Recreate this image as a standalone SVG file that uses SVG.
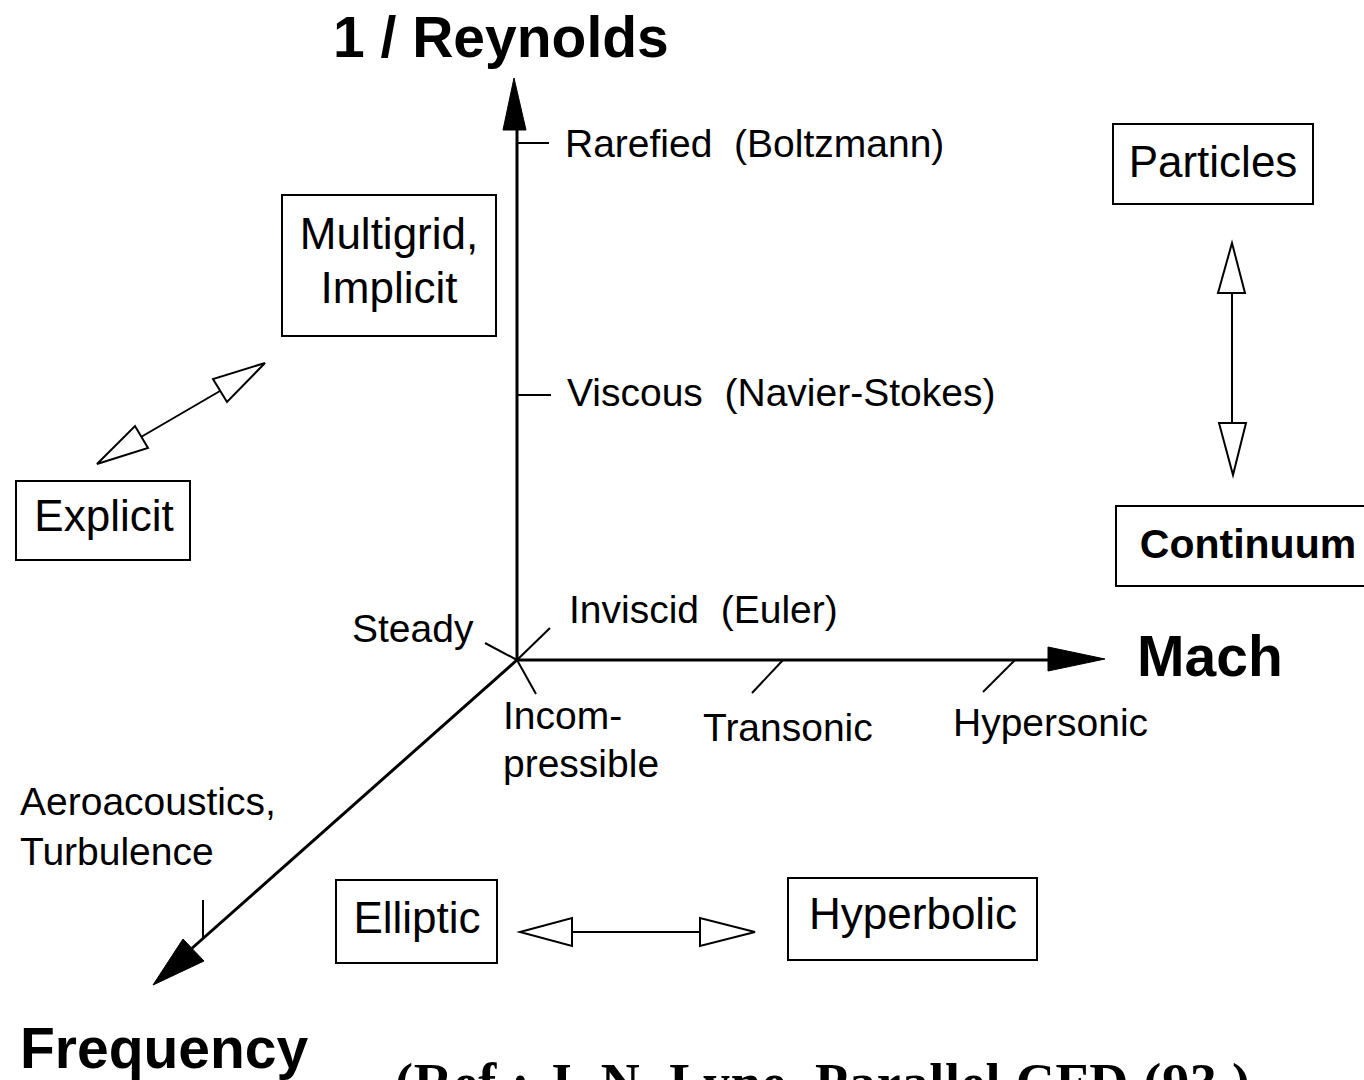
<svg xmlns="http://www.w3.org/2000/svg" width="1364" height="1080" viewBox="0 0 1364 1080">
<style>
text{font-family:"Liberation Sans",Arial,sans-serif;fill:#000;white-space:pre}
.lbl{font-size:39px}
.box{font-size:44px}
.ax{font-size:57px;font-weight:bold}
.node rect{fill:none;stroke:#000;stroke-width:2}
.axis{stroke:#000;stroke-width:3;fill:none}
.tick{stroke:#000;stroke-width:2;fill:none}
.solid{fill:#000;stroke:#000;stroke-width:1}
.link{stroke:#000;stroke-width:2;fill:none}
.hollow{fill:#fff;stroke:#000;stroke-width:2;stroke-linejoin:miter}
.ref{font-family:"Liberation Serif","Times New Roman",serif;font-weight:bold;font-size:54px}
</style>
<rect width="1364" height="1080" fill="#fff"/>
<g id="axes">
  <line class="axis" x1="517" y1="661" x2="517" y2="120"/>
  <polygon class="solid" points="514,78 503,130 526,130"/>
  <line class="axis" x1="517" y1="660" x2="1060" y2="660"/>
  <polygon class="solid" points="1105,659 1048,647 1048,671"/>
  <line class="axis" x1="517" y1="660" x2="190" y2="950"/>
  <polygon class="solid" points="153,985 183,939 204,961"/>
  <line class="tick" x1="517" y1="143" x2="549" y2="143"/>
  <line class="tick" x1="517" y1="395" x2="551" y2="395"/>
  <line class="tick" x1="517" y1="660" x2="550" y2="628"/>
  <line class="tick" x1="517" y1="660" x2="485" y2="643"/>
  <line class="tick" x1="517" y1="660" x2="536" y2="694"/>
  <line class="tick" x1="783" y1="660" x2="752" y2="693"/>
  <line class="tick" x1="1015" y1="660" x2="983" y2="692"/>
  <line class="tick" x1="203" y1="900" x2="203" y2="938"/>
</g>
<g id="axis-labels">
  <text class="ax" x="333" y="57">1 / Reynolds</text>
  <text class="ax" x="1137" y="676">Mach</text>
  <text class="ax" x="20" y="1068">Frequency</text>
  <text class="lbl" x="565" y="157">Rarefied  (Boltzmann)</text>
  <text class="lbl" x="567" y="406">Viscous  (Navier-Stokes)</text>
  <text class="lbl" x="569" y="623">Inviscid  (Euler)</text>
  <text class="lbl" x="352" y="642">Steady</text>
  <text class="lbl" x="503" y="729">Incom-</text>
  <text class="lbl" x="503" y="777">pressible</text>
  <text class="lbl" x="703" y="741">Transonic</text>
  <text class="lbl" x="953" y="736">Hypersonic</text>
  <text class="lbl" x="20" y="815">Aeroacoustics,</text>
  <text class="lbl" x="20" y="865">Turbulence</text>
</g>
<g id="node-multigrid" class="node">
  <rect x="282" y="195" width="214" height="141"/>
  <text class="box" x="389" y="249" text-anchor="middle">Multigrid,</text>
  <text class="box" x="389" y="303" text-anchor="middle">Implicit</text>
</g>
<g id="node-explicit" class="node">
  <rect x="16" y="481" width="174" height="79"/>
  <text class="box" x="104" y="531" text-anchor="middle">Explicit</text>
</g>
<g id="node-particles" class="node">
  <rect x="1113" y="124" width="200" height="80"/>
  <text class="box" x="1213" y="177" text-anchor="middle">Particles</text>
</g>
<g id="node-continuum" class="node">
  <rect x="1116" y="506" width="250" height="80"/>
  <text x="1248" y="558" text-anchor="middle" style="font-size:41px;font-weight:bold">Continuum</text>
</g>
<g id="node-elliptic" class="node">
  <rect x="336" y="880" width="161" height="83"/>
  <text class="box" x="417" y="933" text-anchor="middle">Elliptic</text>
</g>
<g id="node-hyperbolic" class="node">
  <rect x="788" y="878" width="249" height="82"/>
  <text class="box" x="913" y="929" text-anchor="middle">Hyperbolic</text>
</g>
<g id="connectors">
  <line class="link" x1="141" y1="437" x2="220" y2="391"/>
  <polygon class="hollow" points="97,464 135,426 148,448"/>
  <polygon class="hollow" points="265,363 213,379 227,402"/>
  <line class="link" x1="1232" y1="293" x2="1232" y2="423"/>
  <polygon class="hollow" points="1232,243 1218,293 1245,293"/>
  <polygon class="hollow" points="1233,475 1219,423 1246,423"/>
  <line class="link" x1="572" y1="932" x2="700" y2="932"/>
  <polygon class="hollow" points="520,932 572,918 572,946"/>
  <polygon class="hollow" points="755,932 700,918 700,946"/>
</g>
<text class="ref" x="395" y="1101" textLength="855" lengthAdjust="spacing">(Ref.: J. N. Lyne, Parallel CFD (93 )</text>
</svg>
